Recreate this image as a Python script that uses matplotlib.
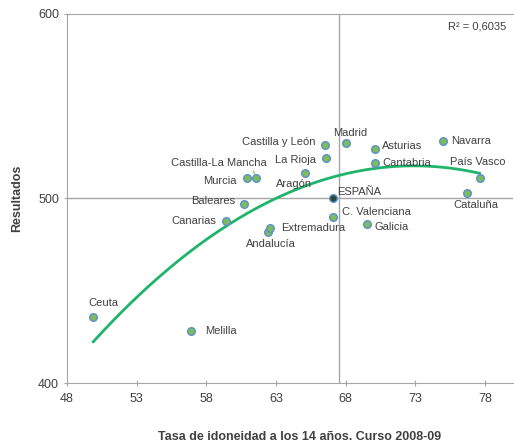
import numpy as np
import matplotlib.pyplot as plt

plt.rcParams['font.family'] = ['Liberation Sans', 'DejaVu Sans']

# regions: tasa de idoneidad (x) vs resultados (y)
regions = ['Ceuta', 'Melilla', 'Canarias', 'Baleares', 'Murcia', 'Castilla-La Mancha',
           'Andalucía', 'Extremadura', 'Aragón', 'Castilla y León', 'La Rioja', 'Madrid',
           'C. Valenciana', 'Galicia', 'Asturias', 'Cantabria', 'Navarra', 'País Vasco',
           'Cataluña']
tasa = [49.9, 56.9, 59.4, 60.7, 60.9, 61.6, 62.4, 62.6, 65.1, 66.5, 66.6, 68.0,
        67.1, 69.5, 70.1, 70.1, 75.0, 77.6, 76.7]
resultados = [436, 428, 488, 497, 511, 511, 482, 484, 514, 529, 522, 530,
              490, 486, 527, 519, 531, 511, 503]
espana_x, espana_y = 67.1, 500
media_x = 67.55

# label offsets in pixels (dx, dy, ha)
offsets = {
    'Ceuta': (10, 14, 'center'), 'Melilla': (14, 0, 'left'), 'Canarias': (-10, 0, 'right'),
    'Baleares': (-9, 3, 'right'), 'Murcia': (-10, -3, 'right'),
    'Castilla-La Mancha': (10, 15, 'right'), 'Andalucía': (3, -12, 'center'),
    'Extremadura': (11, 0, 'left'), 'Aragón': (-11, -11, 'center'),
    'Castilla y León': (-9, 3, 'right'), 'La Rioja': (-10, -2, 'right'),
    'Madrid': (5, 10, 'center'), 'C. Valenciana': (9, 5, 'left'), 'Galicia': (8, -3, 'left'),
    'Asturias': (7, 3, 'left'), 'Cantabria': (7, 0, 'left'), 'Navarra': (8, 0, 'left'),
    'País Vasco': (-2, 16, 'center'), 'Cataluña': (9, -12, 'center'),
}

gray = '#a6a6a6'
txt = '#404040'

fig = plt.figure(figsize=(5.14, 4.48), dpi=100)
ax = fig.add_axes([0.130, 0.145, 0.868, 0.824])
ax.set_xlim(48, 80)
ax.set_ylim(400, 600)

ax.axvline(media_x, color=gray, lw=1, zorder=1)
ax.axhline(500, color=gray, lw=1, zorder=1)

# quadratic trend line
c = np.polyfit(tasa, resultados, 2)
xs = np.linspace(min(tasa), max(tasa), 200)
ax.plot(xs, np.polyval(c, xs), color='#1fb46a', lw=2, zorder=2)

ax.scatter(tasa, resultados, s=30, color='#7cbc5c', edgecolors='#5b8fd0', linewidths=1, zorder=3)
ax.scatter([espana_x], [espana_y], s=30, color='#2e4a3a', edgecolors='#5b8fd0', linewidths=1, zorder=3)

for name, x, y in zip(regions, tasa, resultados):
    dx, dy, ha = offsets[name]
    if name == 'Castilla-La Mancha':
        ax.annotate(name, (x, y), xytext=(dx, dy), textcoords='offset pixels', ha=ha,
                    va='center', fontsize=8, color=txt,
                    arrowprops=dict(arrowstyle='-', color='#7cbc5c', lw=0.8,
                                    shrinkA=0, shrinkB=3, relpos=(0.85, 0)))
    else:
        ax.annotate(name, (x, y), xytext=(dx, dy), textcoords='offset pixels', ha=ha,
                    va='center', fontsize=8, color=txt)
ax.annotate('ESPAÑA', (espana_x, espana_y), xytext=(4, 6), textcoords='offset pixels',
            ha='left', va='center', fontsize=8, color=txt)

ax.text(0.985, 0.965, 'R² = 0,6035', transform=ax.transAxes, ha='right', va='center',
        fontsize=8, color=txt)

ax.set_xticks([48, 53, 58, 63, 68, 73, 78])
ax.set_yticks([400, 500, 600])
ax.tick_params(colors=gray, labelcolor=txt, labelsize=9, length=4, direction='inout')
ax.tick_params(axis='x', pad=5)
for side in ['left', 'bottom', 'top']:
    ax.spines[side].set_color(gray)
ax.spines['right'].set_visible(False)

ax.set_ylabel('Resultados', fontsize=9, fontweight='bold', color=txt)
ax.yaxis.set_label_coords(-0.098, 0.5)
ax.set_xlabel('Tasa de idoneidad a los 14 años. Curso 2008-09', fontsize=9,
              fontweight='bold', color=txt)
ax.xaxis.set_label_coords(0.522, -0.13)

fig.savefig('out.png', dpi=100)
